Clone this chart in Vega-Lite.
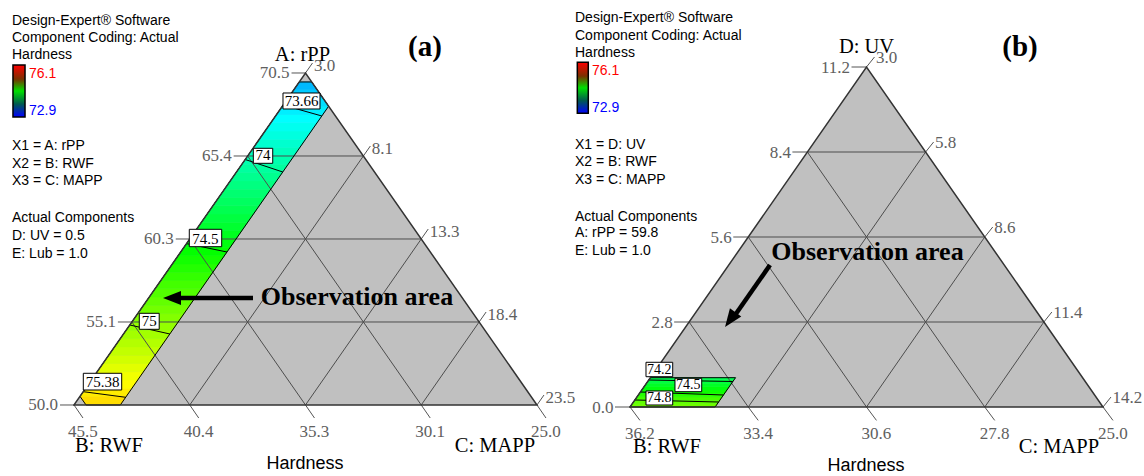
{
"$schema": "https://vega.github.io/schema/vega-lite/v6.json",
"background": "#ffffff",
"padding": 0,
"spacing": 0,
"bounds": "flush",
"config": {"view": {"stroke": null}},
"datasets": {
"tri": [{"o":1,"u":0,"v":0},{"o":2,"u":0.5,"v":1},{"o":3,"u":1,"v":0},{"o":4,"u":0,"v":0}],
"grid": [
{"u":0.125,"v":0.25,"u2":0.875,"v2":0.25},{"u":0.25,"v":0.5,"u2":0.75,"v2":0.5},{"u":0.375,"v":0.75,"u2":0.625,"v2":0.75},
{"u":0.125,"v":0.25,"u2":0.25,"v2":0},{"u":0.25,"v":0.5,"u2":0.5,"v2":0},{"u":0.375,"v":0.75,"u2":0.75,"v2":0},
{"u":0.25,"v":0,"u2":0.625,"v2":0.75},{"u":0.5,"v":0,"u2":0.75,"v2":0.5},{"u":0.75,"v":0,"u2":0.875,"v2":0.25}],
"a_band": [
{"s":1,"v":0,"u":0.026,"u2":0.1,"h":75.41},{"s":1,"v":0.026,"u":0.013,"u2":0.113,"h":75.41},
{"s":2,"v":0.026,"u":0.013,"u2":0.113,"h":75.36},{"s":2,"v":0.05,"u":0.025,"u2":0.125,"h":75.36},
{"s":3,"v":0.05,"u":0.025,"u2":0.125,"h":75.31},{"s":3,"v":0.075,"u":0.0375,"u2":0.1375,"h":75.31},
{"s":4,"v":0.075,"u":0.0375,"u2":0.1375,"h":75.26},{"s":4,"v":0.1,"u":0.05,"u2":0.15,"h":75.26},
{"s":5,"v":0.1,"u":0.05,"u2":0.15,"h":75.21},{"s":5,"v":0.125,"u":0.0625,"u2":0.1625,"h":75.21},
{"s":6,"v":0.125,"u":0.0625,"u2":0.1625,"h":75.16},{"s":6,"v":0.15,"u":0.075,"u2":0.175,"h":75.16},
{"s":7,"v":0.15,"u":0.075,"u2":0.175,"h":75.11},{"s":7,"v":0.175,"u":0.0875,"u2":0.1875,"h":75.11},
{"s":8,"v":0.175,"u":0.0875,"u2":0.1875,"h":75.06},{"s":8,"v":0.2,"u":0.1,"u2":0.2,"h":75.06},
{"s":9,"v":0.2,"u":0.1,"u2":0.2,"h":75.01},{"s":9,"v":0.225,"u":0.1125,"u2":0.2125,"h":75.01},
{"s":10,"v":0.225,"u":0.1125,"u2":0.2125,"h":74.96},{"s":10,"v":0.25,"u":0.125,"u2":0.225,"h":74.96},
{"s":11,"v":0.25,"u":0.125,"u2":0.225,"h":74.91},{"s":11,"v":0.275,"u":0.1375,"u2":0.2375,"h":74.91},
{"s":12,"v":0.275,"u":0.1375,"u2":0.2375,"h":74.86},{"s":12,"v":0.3,"u":0.15,"u2":0.25,"h":74.86},
{"s":13,"v":0.3,"u":0.15,"u2":0.25,"h":74.81},{"s":13,"v":0.325,"u":0.1625,"u2":0.2625,"h":74.81},
{"s":14,"v":0.325,"u":0.1625,"u2":0.2625,"h":74.76},{"s":14,"v":0.35,"u":0.175,"u2":0.275,"h":74.76},
{"s":15,"v":0.35,"u":0.175,"u2":0.275,"h":74.71},{"s":15,"v":0.375,"u":0.1875,"u2":0.2875,"h":74.71},
{"s":16,"v":0.375,"u":0.1875,"u2":0.2875,"h":74.66},{"s":16,"v":0.4,"u":0.2,"u2":0.3,"h":74.66},
{"s":17,"v":0.4,"u":0.2,"u2":0.3,"h":74.61},{"s":17,"v":0.425,"u":0.2125,"u2":0.3125,"h":74.61},
{"s":18,"v":0.425,"u":0.2125,"u2":0.3125,"h":74.56},{"s":18,"v":0.45,"u":0.225,"u2":0.325,"h":74.56},
{"s":19,"v":0.45,"u":0.225,"u2":0.325,"h":74.51},{"s":19,"v":0.475,"u":0.2375,"u2":0.3375,"h":74.51},
{"s":20,"v":0.475,"u":0.2375,"u2":0.3375,"h":74.45},{"s":20,"v":0.5,"u":0.25,"u2":0.35,"h":74.45},
{"s":21,"v":0.5,"u":0.25,"u2":0.35,"h":74.40},{"s":21,"v":0.525,"u":0.2625,"u2":0.3625,"h":74.40},
{"s":22,"v":0.525,"u":0.2625,"u2":0.3625,"h":74.35},{"s":22,"v":0.55,"u":0.275,"u2":0.375,"h":74.35},
{"s":23,"v":0.55,"u":0.275,"u2":0.375,"h":74.30},{"s":23,"v":0.575,"u":0.2875,"u2":0.3875,"h":74.30},
{"s":24,"v":0.575,"u":0.2875,"u2":0.3875,"h":74.25},{"s":24,"v":0.6,"u":0.3,"u2":0.4,"h":74.25},
{"s":25,"v":0.6,"u":0.3,"u2":0.4,"h":74.20},{"s":25,"v":0.625,"u":0.3125,"u2":0.4125,"h":74.20},
{"s":26,"v":0.625,"u":0.3125,"u2":0.4125,"h":74.15},{"s":26,"v":0.65,"u":0.325,"u2":0.425,"h":74.15},
{"s":27,"v":0.65,"u":0.325,"u2":0.425,"h":74.10},{"s":27,"v":0.675,"u":0.3375,"u2":0.4375,"h":74.10},
{"s":28,"v":0.675,"u":0.3375,"u2":0.4375,"h":74.05},{"s":28,"v":0.7,"u":0.35,"u2":0.45,"h":74.05},
{"s":29,"v":0.7,"u":0.35,"u2":0.45,"h":74.00},{"s":29,"v":0.725,"u":0.3625,"u2":0.4625,"h":74.00},
{"s":30,"v":0.725,"u":0.3625,"u2":0.4625,"h":73.95},{"s":30,"v":0.75,"u":0.375,"u2":0.475,"h":73.95},
{"s":31,"v":0.75,"u":0.375,"u2":0.475,"h":73.90},{"s":31,"v":0.775,"u":0.3875,"u2":0.4875,"h":73.90},
{"s":32,"v":0.775,"u":0.3875,"u2":0.4875,"h":73.85},{"s":32,"v":0.8,"u":0.4,"u2":0.5,"h":73.85},
{"s":33,"v":0.8,"u":0.4,"u2":0.5,"h":73.80},{"s":33,"v":0.825,"u":0.4125,"u2":0.5125,"h":73.80},
{"s":34,"v":0.825,"u":0.4125,"u2":0.5125,"h":73.75},{"s":34,"v":0.85,"u":0.425,"u2":0.525,"h":73.75},
{"s":35,"v":0.85,"u":0.425,"u2":0.525,"h":73.70},{"s":35,"v":0.875,"u":0.4375,"u2":0.5375,"h":73.70},
{"s":36,"v":0.875,"u":0.4375,"u2":0.5375,"h":73.65},{"s":36,"v":0.9,"u":0.45,"u2":0.55,"h":73.65},
{"s":37,"v":0.9,"u":0.45,"u2":0.55,"h":73.60},{"s":37,"v":0.925,"u":0.4625,"u2":0.5375,"h":73.60},
{"s":38,"v":0.925,"u":0.4625,"u2":0.5375,"h":73.54},{"s":38,"v":0.95,"u":0.475,"u2":0.525,"h":73.54},
{"s":39,"v":0.95,"u":0.475,"u2":0.525,"h":73.48},{"s":39,"v":0.973,"u":0.4865,"u2":0.5135,"h":73.48}],
"a_edge": [{"o":1,"u":0.026,"v":0},{"o":2,"u":0.1,"v":0},{"o":3,"u":0.55,"v":0.9},{"o":4,"u":0.5135,"v":0.973},{"o":5,"u":0.4865,"v":0.973},{"o":6,"u":0.013,"v":0.026},{"o":7,"u":0.026,"v":0}],
"a_rules": [
{"k":"t","u":0,"v":0,"u2":-0.0302,"v2":0},{"k":"t","u":0.125,"v":0.25,"u2":0.0948,"v2":0.25},{"k":"t","u":0.25,"v":0.5,"u2":0.2198,"v2":0.5},{"k":"t","u":0.375,"v":0.75,"u2":0.3448,"v2":0.75},{"k":"t","u":0.5,"v":1,"u2":0.4698,"v2":1},
{"k":"t","u":0,"v":0,"u2":0.0194,"v2":-0.0392},{"k":"t","u":0.25,"v":0,"u2":0.2694,"v2":-0.0392},{"k":"t","u":0.5,"v":0,"u2":0.5194,"v2":-0.0392},{"k":"t","u":0.75,"v":0,"u2":0.7694,"v2":-0.0392},{"k":"t","u":1,"v":0,"u2":1.0194,"v2":-0.0392},
{"k":"t","u":0.5,"v":1,"u2":0.5151,"v2":1.0301},{"k":"t","u":0.625,"v":0.75,"u2":0.6401,"v2":0.7801},{"k":"t","u":0.75,"v":0.5,"u2":0.7651,"v2":0.5301},{"k":"t","u":0.875,"v":0.25,"u2":0.8901,"v2":0.2801},{"k":"t","u":1,"v":0,"u2":1.0151,"v2":0.0301},
{"k":"c","u":0.4514,"v":0.9036,"u2":0.5352,"v2":0.8705},{"k":"c","u":0.3697,"v":0.7395,"u2":0.4509,"v2":0.7018},{"k":"c","u":0.2431,"v":0.4861,"u2":0.3304,"v2":0.4608},{"k":"c","u":0.1205,"v":0.241,"u2":0.2069,"v2":0.2139},{"k":"c","u":0.02,"v":0.0401,"u2":0.1116,"v2":0.0232},
{"k":"a","u":0.3866,"v":0.3223,"u2":0.2246,"v2":0.3223}],
"a_box": [
{"k":"l","u":0.4514,"v":0.9398,"u2":0.5313,"v2":0.8916},{"k":"l","u":0.3873,"v":0.7732,"u2":0.4292,"v2":0.728},{"k":"l","u":0.249,"v":0.5292,"u2":0.319,"v2":0.4768},{"k":"l","u":0.141,"v":0.2762,"u2":0.184,"v2":0.228},{"k":"l","u":0.0201,"v":0.0955,"u2":0.103,"v2":0.0452},
{"k":"bar","u":-0.1318,"v":1.0241,"u2":-0.1058,"v2":0.8675}],
"a_text": [
{"k":"lg","u":-0.1339,"v":1.1446,"t":"Design-Expert® Software"},{"k":"lg","u":-0.1339,"v":1.0919,"t":"Component Coding: Actual"},{"k":"lg","u":-0.1339,"v":1.0407,"t":"Hardness"},
{"k":"hi","u":-0.0972,"v":0.9849,"t":"76.1"},{"k":"lo","u":-0.0972,"v":0.8735,"t":"72.9"},
{"k":"lg","u":-0.1339,"v":0.7681,"t":"X1 = A: rPP"},{"k":"lg","u":-0.1339,"v":0.7139,"t":"X2 = B: RWF"},{"k":"lg","u":-0.1339,"v":0.6627,"t":"X3 = C: MAPP"},
{"k":"lg","u":-0.1339,"v":0.5512,"t":"Actual Components"},{"k":"lg","u":-0.1339,"v":0.497,"t":"D: UV = 0.5"},{"k":"lg","u":-0.1339,"v":0.4428,"t":"E: Lub = 1.0"},
{"k":"ti","u":0.4989,"v":-0.1928,"t":"Hardness"},
{"k":"tl","u":-0.0345,"v":-0.0151,"t":"50.0"},{"k":"tl","u":0.0905,"v":0.2349,"t":"55.1"},{"k":"tl","u":0.2155,"v":0.4849,"t":"60.3"},{"k":"tl","u":0.3405,"v":0.7349,"t":"65.4"},{"k":"tl","u":0.4655,"v":0.9849,"t":"70.5"},
{"k":"tb","u":0.0194,"v":-0.0964,"t":"45.5"},{"k":"tb","u":0.2694,"v":-0.0964,"t":"40.4"},{"k":"tb","u":0.5194,"v":-0.0964,"t":"35.3"},{"k":"tb","u":0.7694,"v":-0.0964,"t":"30.1"},{"k":"tb","u":1.0194,"v":-0.0964,"t":"25.0"},
{"k":"tr","u":0.5183,"v":1.0061,"t":"3.0"},{"k":"tr","u":0.6433,"v":0.7561,"t":"8.1"},{"k":"tr","u":0.7683,"v":0.5061,"t":"13.3"},{"k":"tr","u":0.8933,"v":0.2561,"t":"18.4"},{"k":"tr","u":1.0183,"v":0.0061,"t":"23.5"},
{"k":"vx","u":0.4935,"v":1.0361,"t":"A: rPP"},{"k":"vx","u":0.0756,"v":-0.1416,"t":"B: RWF"},{"k":"vx","u":0.9093,"v":-0.1416,"t":"C: MAPP"},
{"k":"cl","u":0.4914,"v":0.9006,"t":"73.66"},{"k":"cl","u":0.4082,"v":0.737,"t":"74"},{"k":"cl","u":0.284,"v":0.4858,"t":"74.5"},{"k":"cl","u":0.1625,"v":0.237,"t":"75"},{"k":"cl","u":0.0616,"v":0.0542,"t":"75.38"},
{"k":"tag","u":0.7581,"v":1.0512,"t":"(a)"},
{"k":"nt","u":0.6112,"v":0.3012,"t":"Observation area"}],
"a_head": [{"u":0.2117,"v":0.3223}],
"b_band": [
{"s":1,"v":0,"u":0,"u2":0.18,"h":74.85},{"s":1,"v":0.01,"u":0.005,"u2":0.185,"h":74.85},
{"s":2,"v":0.01,"u":0.005,"u2":0.185,"h":74.8},{"s":2,"v":0.02,"u":0.01,"u2":0.19,"h":74.8},
{"s":3,"v":0.02,"u":0.01,"u2":0.19,"h":74.72},{"s":3,"v":0.03,"u":0.015,"u2":0.195,"h":74.72},
{"s":4,"v":0.03,"u":0.015,"u2":0.195,"h":74.63},{"s":4,"v":0.04,"u":0.02,"u2":0.2,"h":74.63},
{"s":5,"v":0.04,"u":0.02,"u2":0.2,"h":74.54},{"s":5,"v":0.05,"u":0.025,"u2":0.205,"h":74.54},
{"s":6,"v":0.05,"u":0.025,"u2":0.205,"h":74.46},{"s":6,"v":0.06,"u":0.03,"u2":0.21,"h":74.46},
{"s":7,"v":0.06,"u":0.03,"u2":0.21,"h":74.38},{"s":7,"v":0.07,"u":0.035,"u2":0.215,"h":74.38},
{"s":8,"v":0.07,"u":0.035,"u2":0.215,"h":74.3},{"s":8,"v":0.08,"u":0.04,"u2":0.22,"h":74.3},
{"s":9,"v":0.08,"u":0.04,"u2":0.22,"h":74.24},{"s":9,"v":0.0862,"u":0.0431,"u2":0.2231,"h":74.24}],
"b_edge": [{"o":1,"u":0,"v":0},{"o":2,"u":0.18,"v":0},{"o":3,"u":0.2231,"v":0.0862},{"o":4,"u":0.0431,"v":0.0862},{"o":5,"u":0,"v":0}],
"b_rules": [
{"k":"t","u":0,"v":0,"u2":-0.0317,"v2":0},{"k":"t","u":0.125,"v":0.25,"u2":0.0933,"v2":0.25},{"k":"t","u":0.25,"v":0.5,"u2":0.2183,"v2":0.5},{"k":"t","u":0.375,"v":0.75,"u2":0.3433,"v2":0.75},{"k":"t","u":0.5,"v":1,"u2":0.4683,"v2":1},
{"k":"t","u":0,"v":0,"u2":0.0211,"v2":-0.0394},{"k":"t","u":0.25,"v":0,"u2":0.2711,"v2":-0.0394},{"k":"t","u":0.5,"v":0,"u2":0.5211,"v2":-0.0394},{"k":"t","u":0.75,"v":0,"u2":0.7711,"v2":-0.0394},{"k":"t","u":1,"v":0,"u2":1.0211,"v2":-0.0394},
{"k":"t","u":0.5,"v":1,"u2":0.5169,"v2":1.0294},{"k":"t","u":0.625,"v":0.75,"u2":0.6419,"v2":0.7794},{"k":"t","u":0.75,"v":0.5,"u2":0.7669,"v2":0.5294},{"k":"t","u":0.875,"v":0.25,"u2":0.8919,"v2":0.2794},{"k":"t","u":1,"v":0,"u2":1.0169,"v2":0.0294},
{"k":"c","u":0.0397,"v":0.0794,"u2":0.2175,"v2":0.075},{"k":"c","u":0.0221,"v":0.0441,"u2":0.1976,"v2":0.0353},{"k":"c","u":0.0103,"v":0.0206,"u2":0.1874,"v2":0.0147},
{"k":"a","u":0.296,"v":0.4176,"u2":0.2178,"v2":0.2618}],
"b_box": [
{"k":"l","u":0.0338,"v":0.1315,"u2":0.0903,"v2":0.0891},{"k":"l","u":0.0951,"v":0.0844,"u2":0.1516,"v2":0.045},{"k":"l","u":0.0338,"v":0.0471,"u2":0.0903,"v2":0.0059},
{"k":"bar","u":-0.1114,"v":1.0138,"u2":-0.0882,"v2":0.8638}],
"b_text": [
{"k":"lg","u":-0.1163,"v":1.1309,"t":"Design-Expert® Software"},{"k":"lg","u":-0.1163,"v":1.0794,"t":"Component Coding: Actual"},{"k":"lg","u":-0.1163,"v":1.0294,"t":"Hardness"},
{"k":"hi","u":-0.0803,"v":0.9765,"t":"76.1"},{"k":"lo","u":-0.0803,"v":0.8691,"t":"72.9"},
{"k":"lg","u":-0.1163,"v":0.7588,"t":"X1 = D: UV"},{"k":"lg","u":-0.1163,"v":0.7074,"t":"X2 = B: RWF"},{"k":"lg","u":-0.1163,"v":0.6559,"t":"X3 = C: MAPP"},
{"k":"lg","u":-0.1163,"v":0.5485,"t":"Actual Components"},{"k":"lg","u":-0.1163,"v":0.5,"t":"A: rPP = 59.8"},{"k":"lg","u":-0.1163,"v":0.4456,"t":"E: Lub = 1.0"},
{"k":"ti","u":0.4989,"v":-0.1897,"t":"Hardness"},
{"k":"tl","u":-0.0347,"v":-0.019,"t":"0.0"},{"k":"tl","u":0.0903,"v":0.231,"t":"2.8"},{"k":"tl","u":0.2153,"v":0.481,"t":"5.6"},{"k":"tl","u":0.3403,"v":0.731,"t":"8.4"},{"k":"tl","u":0.4653,"v":0.981,"t":"11.2"},
{"k":"tb","u":0.0211,"v":-0.095,"t":"36.2"},{"k":"tb","u":0.2711,"v":-0.095,"t":"33.4"},{"k":"tb","u":0.5211,"v":-0.095,"t":"30.6"},{"k":"tb","u":0.7711,"v":-0.095,"t":"27.8"},{"k":"tb","u":1.0211,"v":-0.095,"t":"25.0"},
{"k":"tr","u":0.5199,"v":1.0114,"t":"3.0"},{"k":"tr","u":0.6449,"v":0.7614,"t":"5.8"},{"k":"tr","u":0.7699,"v":0.5114,"t":"8.6"},{"k":"tr","u":0.8949,"v":0.2614,"t":"11.4"},{"k":"tr","u":1.0199,"v":0.0114,"t":"14.2"},
{"k":"vx","u":0.5,"v":1.0412,"t":"D: UV"},{"k":"vx","u":0.0782,"v":-0.1353,"t":"B: RWF"},{"k":"vx","u":0.907,"v":-0.1353,"t":"C: MAPP"},
{"k":"cl","u":0.0621,"v":0.0965,"t":"74.2"},{"k":"cl","u":0.1234,"v":0.0524,"t":"74.5"},{"k":"cl","u":0.0621,"v":0.0133,"t":"74.8"},
{"k":"tag","u":0.8245,"v":1.0324,"t":"(b)"},
{"k":"nt","u":0.5021,"v":0.4324,"t":"Observation area"}],
"b_head": [{"u":0.2121,"v":0.2568}]
},
"hconcat": [
{
"width": 560, "height": 476,
"encoding": {
"x": {"field":"u","type":"quantitative","stack":null,"axis":null,"scale":{"domain":[-0.15983,1.04968],"nice":false,"zero":false}},
"y": {"field":"v","type":"quantitative","stack":null,"axis":null,"scale":{"domain":[-0.21386,1.21988],"nice":false,"zero":false}}
},
"layer": [
{"data":{"name":"tri"},"mark":{"type":"area","color":"#c0c0c0"},"encoding":{"y2":{"datum":0}}},
{"data":{"name":"a_band"},"mark":{"type":"area","orient":"horizontal","strokeWidth":0.6,"opacity":1},
 "encoding":{"x2":{"field":"u2"},"detail":{"field":"s"},
  "color":{"field":"h","type":"quantitative","legend":null,"scale":{"domain":[72.9,73.7,74.5,75.3,76.1],"range":["#0000ff","#00ffff","#00ff00","#ffff00","#ff0000"],"interpolate":"rgb"}},
  "stroke":{"field":"h","type":"quantitative","legend":null,"scale":{"domain":[72.9,73.7,74.5,75.3,76.1],"range":["#0000ff","#00ffff","#00ff00","#ffff00","#ff0000"],"interpolate":"rgb"}}}},
{"data":{"name":"grid"},"mark":{"type":"rule","color":"#4d4d4d","strokeWidth":1},"encoding":{"x2":{"field":"u2"},"y2":{"field":"v2"}}},
{"data":{"name":"a_rules"},"mark":{"type":"rule"},"encoding":{"x2":{"field":"u2"},"y2":{"field":"v2"},
  "color":{"condition":{"test":"datum.k==='t'","value":"#555555"},"value":"#000000"},
  "strokeWidth":{"condition":{"test":"datum.k==='a'","value":4.5},"value":1}}},
{"data":{"name":"a_edge"},"mark":{"type":"line","color":"#000000","strokeWidth":1},"encoding":{"order":{"field":"o"}}},
{"data":{"name":"tri"},"mark":{"type":"line","color":"#333333","strokeWidth":1.5,"strokeCap":"square"},"encoding":{"order":{"field":"o"}}},
{"data":{"name":"a_box"},"transform":[{"filter":"datum.k==='l'"}],"mark":{"type":"rect","fill":"#ffffff","stroke":"#000000","strokeWidth":1},"encoding":{"x2":{"field":"u2"},"y2":{"field":"v2"}}},
{"data":{"name":"a_box"},"transform":[{"filter":"datum.k==='bar'"}],"mark":{"type":"rect","stroke":"#000000","strokeWidth":1.5,"color":{"gradient":"linear","x1":0,"y1":0,"x2":0,"y2":1,"stops":[{"offset":0,"color":"#ff0000"},{"offset":0.27,"color":"#7a3000"},{"offset":0.5,"color":"#00e000"},{"offset":0.75,"color":"#005a50"},{"offset":1,"color":"#0000ff"}]}},"encoding":{"x2":{"field":"u2"},"y2":{"field":"v2"}}},
{"data":{"name":"a_text"},"transform":[{"filter":{"field":"k","oneOf":["lg","hi","lo"]}}],"mark":{"type":"text","font":"Liberation Sans","fontSize":14,"align":"left","baseline":"alphabetic"},
 "encoding":{"text":{"field":"t"},"color":{"condition":[{"test":"datum.k==='hi'","value":"#ff0000"},{"test":"datum.k==='lo'","value":"#0000ff"}],"value":"#000000"}}},
{"data":{"name":"a_text"},"transform":[{"filter":"datum.k==='ti'"}],"mark":{"type":"text","font":"Liberation Sans","fontSize":18,"align":"center","baseline":"alphabetic","color":"#000000"},"encoding":{"text":{"field":"t"}}},
{"data":{"name":"a_text"},"transform":[{"filter":"datum.k==='tl'"}],"mark":{"type":"text","font":"Liberation Serif","fontSize":17,"align":"right","baseline":"alphabetic","color":"#606060"},"encoding":{"text":{"field":"t"}}},
{"data":{"name":"a_text"},"transform":[{"filter":"datum.k==='tb'"}],"mark":{"type":"text","font":"Liberation Serif","fontSize":17,"align":"center","baseline":"alphabetic","color":"#606060"},"encoding":{"text":{"field":"t"}}},
{"data":{"name":"a_text"},"transform":[{"filter":"datum.k==='tr'"}],"mark":{"type":"text","font":"Liberation Serif","fontSize":17,"align":"left","baseline":"alphabetic","color":"#606060"},"encoding":{"text":{"field":"t"}}},
{"data":{"name":"a_text"},"transform":[{"filter":{"field":"k","oneOf":["vx","cl"]}}],"mark":{"type":"text","font":"Liberation Serif","align":"center","baseline":"alphabetic","color":"#000000"},
 "encoding":{"text":{"field":"t"},"size":{"condition":{"test":"datum.k==='cl'","value":15},"value":20.5}}},
{"data":{"name":"a_text"},"transform":[{"filter":{"field":"k","oneOf":["tag","nt"]}}],"mark":{"type":"text","font":"Liberation Serif","fontWeight":"bold","align":"center","baseline":"alphabetic","color":"#000000"},
 "encoding":{"text":{"field":"t"},"size":{"condition":{"test":"datum.k==='tag'","value":29},"value":26}}},
{"data":{"name":"a_head"},"mark":{"type":"point","shape":"M -1 0 L 1 -0.78 L 1 0.78 Z","size":324,"filled":true,"color":"#000000","opacity":1,"angle":0}}
]
},
{
"width": 584, "height": 476,
"encoding": {
"x": {"field":"u","type":"quantitative","stack":null,"axis":null,"scale":{"domain":[-0.14799,1.08668],"nice":false,"zero":false}},
"y": {"field":"v","type":"quantitative","stack":null,"axis":null,"scale":{"domain":[-0.20294,1.19706],"nice":false,"zero":false}}
},
"layer": [
{"data":{"name":"tri"},"mark":{"type":"area","color":"#c0c0c0"},"encoding":{"y2":{"datum":0}}},
{"data":{"name":"b_band"},"mark":{"type":"area","orient":"horizontal","strokeWidth":0.6,"opacity":1},
 "encoding":{"x2":{"field":"u2"},"detail":{"field":"s"},
  "color":{"field":"h","type":"quantitative","legend":null,"scale":{"domain":[72.9,73.7,74.5,75.3,76.1],"range":["#0000ff","#00ffff","#00ff00","#ffff00","#ff0000"],"interpolate":"rgb"}},
  "stroke":{"field":"h","type":"quantitative","legend":null,"scale":{"domain":[72.9,73.7,74.5,75.3,76.1],"range":["#0000ff","#00ffff","#00ff00","#ffff00","#ff0000"],"interpolate":"rgb"}}}},
{"data":{"name":"grid"},"mark":{"type":"rule","color":"#4d4d4d","strokeWidth":1},"encoding":{"x2":{"field":"u2"},"y2":{"field":"v2"}}},
{"data":{"name":"b_rules"},"mark":{"type":"rule"},"encoding":{"x2":{"field":"u2"},"y2":{"field":"v2"},
  "color":{"condition":{"test":"datum.k==='t'","value":"#555555"},"value":"#000000"},
  "strokeWidth":{"condition":{"test":"datum.k==='a'","value":4.5},"value":1}}},
{"data":{"name":"b_edge"},"mark":{"type":"line","color":"#000000","strokeWidth":1},"encoding":{"order":{"field":"o"}}},
{"data":{"name":"tri"},"mark":{"type":"line","color":"#333333","strokeWidth":1.5,"strokeCap":"square"},"encoding":{"order":{"field":"o"}}},
{"data":{"name":"b_box"},"transform":[{"filter":"datum.k==='l'"}],"mark":{"type":"rect","fill":"#ffffff","stroke":"#000000","strokeWidth":1},"encoding":{"x2":{"field":"u2"},"y2":{"field":"v2"}}},
{"data":{"name":"b_box"},"transform":[{"filter":"datum.k==='bar'"}],"mark":{"type":"rect","stroke":"#000000","strokeWidth":1.5,"color":{"gradient":"linear","x1":0,"y1":0,"x2":0,"y2":1,"stops":[{"offset":0,"color":"#ff0000"},{"offset":0.27,"color":"#7a3000"},{"offset":0.5,"color":"#00e000"},{"offset":0.75,"color":"#005a50"},{"offset":1,"color":"#0000ff"}]}},"encoding":{"x2":{"field":"u2"},"y2":{"field":"v2"}}},
{"data":{"name":"b_text"},"transform":[{"filter":{"field":"k","oneOf":["lg","hi","lo"]}}],"mark":{"type":"text","font":"Liberation Sans","fontSize":14,"align":"left","baseline":"alphabetic"},
 "encoding":{"text":{"field":"t"},"color":{"condition":[{"test":"datum.k==='hi'","value":"#ff0000"},{"test":"datum.k==='lo'","value":"#0000ff"}],"value":"#000000"}}},
{"data":{"name":"b_text"},"transform":[{"filter":"datum.k==='ti'"}],"mark":{"type":"text","font":"Liberation Sans","fontSize":18,"align":"center","baseline":"alphabetic","color":"#000000"},"encoding":{"text":{"field":"t"}}},
{"data":{"name":"b_text"},"transform":[{"filter":"datum.k==='tl'"}],"mark":{"type":"text","font":"Liberation Serif","fontSize":17,"align":"right","baseline":"alphabetic","color":"#606060"},"encoding":{"text":{"field":"t"}}},
{"data":{"name":"b_text"},"transform":[{"filter":"datum.k==='tb'"}],"mark":{"type":"text","font":"Liberation Serif","fontSize":17,"align":"center","baseline":"alphabetic","color":"#606060"},"encoding":{"text":{"field":"t"}}},
{"data":{"name":"b_text"},"transform":[{"filter":"datum.k==='tr'"}],"mark":{"type":"text","font":"Liberation Serif","fontSize":17,"align":"left","baseline":"alphabetic","color":"#606060"},"encoding":{"text":{"field":"t"}}},
{"data":{"name":"b_text"},"transform":[{"filter":{"field":"k","oneOf":["vx","cl"]}}],"mark":{"type":"text","font":"Liberation Serif","align":"center","baseline":"alphabetic","color":"#000000"},
 "encoding":{"text":{"field":"t"},"size":{"condition":{"test":"datum.k==='cl'","value":14},"value":20.5}}},
{"data":{"name":"b_text"},"transform":[{"filter":{"field":"k","oneOf":["tag","nt"]}}],"mark":{"type":"text","font":"Liberation Serif","fontWeight":"bold","align":"center","baseline":"alphabetic","color":"#000000"},
 "encoding":{"text":{"field":"t"},"size":{"condition":{"test":"datum.k==='tag'","value":29},"value":26}}},
{"data":{"name":"b_head"},"mark":{"type":"point","shape":"M -1 0 L 1 -0.78 L 1 0.78 Z","size":324,"filled":true,"color":"#000000","opacity":1,"angle":306}}
]
}
]
}
